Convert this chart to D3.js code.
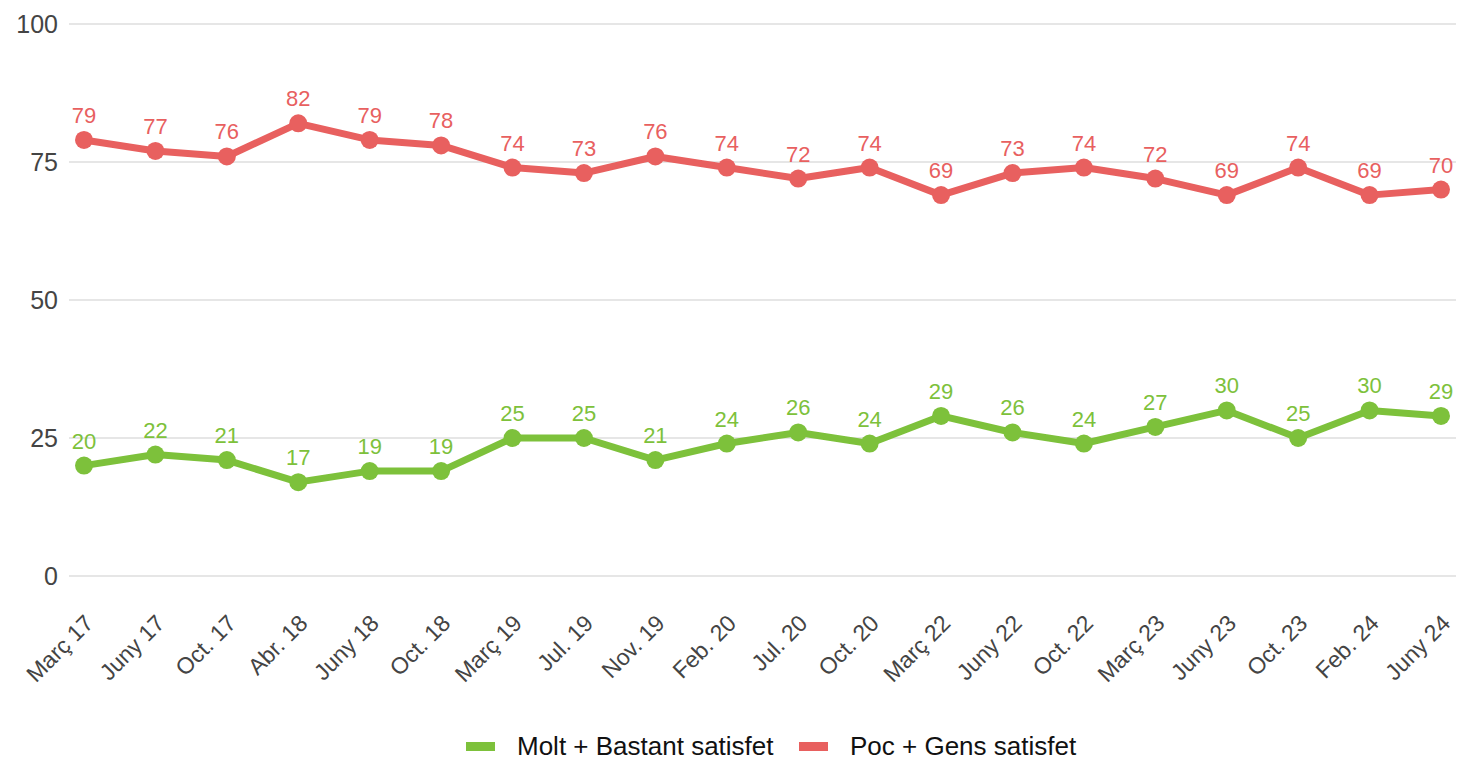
<!DOCTYPE html>
<html><head><meta charset="utf-8">
<script src="https://cdn.jsdelivr.net/npm/d3@7"></script>
<style>body{margin:0;background:#fff;font-family:Arial,"Liberation Sans",sans-serif;}</style>
</head><body><svg id="c" width="1461" height="760"></svg>
<script>
const categories = ["Març 17","Juny 17","Oct. 17","Abr. 18","Juny 18","Oct. 18","Març 19","Jul. 19","Nov. 19","Feb. 20","Jul. 20","Oct. 20","Març 22","Juny 22","Oct. 22","Març 23","Juny 23","Oct. 23","Feb. 24","Juny 24"];
const molt = [20,22,21,17,19,19,25,25,21,24,26,24,29,26,24,27,30,25,30,29];
const poc = [79,77,76,82,79,78,74,73,76,74,72,74,69,73,74,72,69,74,69,70];
const yTicks = [0,25,50,75,100];
const seriesNames = ["Molt + Bastant satisfet","Poc + Gens satisfet"];
const colors = ["#7dc13b","#e8605f"];

const svg = d3.select("#c").style("font-family","Arial, 'Liberation Sans', sans-serif");
const x = d3.scalePoint().domain(categories).range([84,1441]);
const y = d3.scaleLinear().domain([0,100]).range([576,24]);

const g = svg.append("g");
g.selectAll("line.grid").data(yTicks).join("line")
  .attr("x1",69).attr("x2",1456).attr("y1",d=>y(d)).attr("y2",d=>y(d))
  .attr("stroke","#e6e6e6").attr("stroke-width",2);
g.selectAll("text.yt").data(yTicks).join("text")
  .attr("x",58).attr("y",d=>y(d)).attr("dy","0.35em").attr("text-anchor","end")
  .attr("fill","#444").style("font-size","25px").text(d=>d);

g.selectAll("text.xt").data(categories).join("text")
  .attr("transform",d=>`translate(${x(d)+5},${619}) rotate(-45)`)
  .attr("text-anchor","end").attr("dy","0.35em")
  .attr("fill","#444").style("font-size","23px").text(d=>d);

[molt,poc].forEach((vals,i)=>{
  const data = vals.map((v,j)=>({c:categories[j],v}));
  g.append("path").datum(data)
   .attr("fill","none").attr("stroke",colors[i]).attr("stroke-width",7).attr("stroke-linejoin","round")
   .attr("d",d3.line().x(d=>x(d.c)).y(d=>y(d.v)));
  g.selectAll(null).data(data).join("circle")
   .attr("cx",d=>x(d.c)).attr("cy",d=>y(d.v)).attr("r",9).attr("fill",colors[i]);
  g.selectAll(null).data(data).join("text")
   .attr("x",d=>x(d.c)).attr("y",d=>y(d.v)-17).attr("text-anchor","middle")
   .attr("fill",colors[i]).style("font-size","22px").text(d=>d.v);
});

const leg = [{x:466,tx:517},{x:799,tx:850}];
seriesNames.forEach((n,i)=>{
  svg.append("rect").attr("x",leg[i].x).attr("y",742).attr("width",29).attr("height",9).attr("fill",colors[i]);
  svg.append("text").attr("x",leg[i].tx).attr("y",755).style("font-size","26px").attr("fill","#111").text(n);
});
</script></body></html>
